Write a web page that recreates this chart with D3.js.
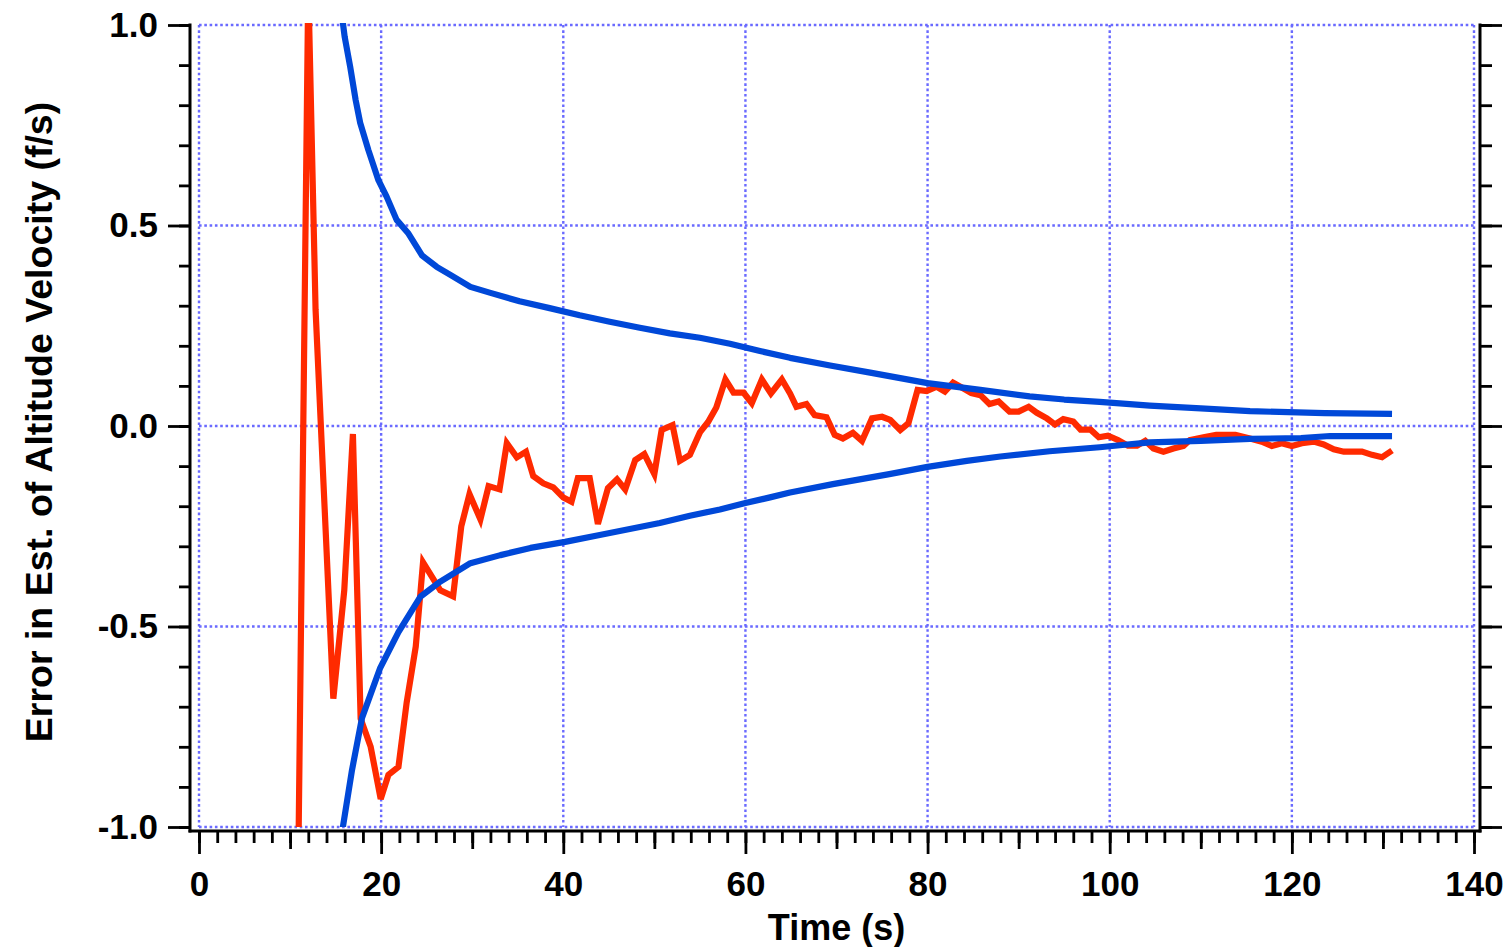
<!DOCTYPE html>
<html>
<head>
<meta charset="utf-8">
<script src="https://cdn.jsdelivr.net/npm/d3@7"></script>
<style>
  html, body { margin: 0; padding: 0; background: #ffffff; }
  svg { display: block; }
  text { font-family: "Liberation Sans", Arial, Helvetica, sans-serif; font-weight: bold; fill: #000; }
</style>
</head>
<body>
<svg id="chart" width="1510" height="947"></svg>
<script>
// ---------------- data ----------------
const xTicksMajor = [0, 20, 40, 60, 80, 100, 120, 140];
const yTicksMajor = [-1.0, -0.5, 0.0, 0.5, 1.0];
const xLabel = "Time (s)";
const yLabel = "Error in Est. of Altitude Velocity (f/s)";

// estimation error  [time (s), error (f/s)]
const errorSeries = [
  [10.9,-1.1],[12.0,1.1],[12.8,0.29],[14.75,-0.68],[15.95,-0.41],[16.9,-0.02],
  [17.75,-0.73],[18.85,-0.80],[19.95,-0.93],[20.8,-0.87],[21.9,-0.85],[22.8,-0.69],
  [23.8,-0.55],[24.6,-0.34],[26.5,-0.41],[27.9,-0.425],[28.8,-0.25],[29.7,-0.17],
  [30.9,-0.233],[31.8,-0.15],[33.0,-0.158],[33.8,-0.043],[34.9,-0.078],[35.9,-0.064],
  [36.7,-0.125],[37.8,-0.143],[38.9,-0.153],[40.0,-0.178],[40.9,-0.189],[41.6,-0.13],
  [42.9,-0.13],[43.8,-0.244],[44.9,-0.155],[45.9,-0.133],[46.8,-0.158],[47.9,-0.085],
  [48.9,-0.07],[50.0,-0.12],[50.8,-0.01],[52.0,0.002],[52.8,-0.087],[53.9,-0.072],
  [55.0,-0.016],[55.9,0.01],[56.8,0.046],[57.8,0.116],[58.7,0.083],[59.8,0.083],
  [60.7,0.057],[61.8,0.116],[62.8,0.081],[64.0,0.116],[64.9,0.081],[65.6,0.048],
  [66.7,0.055],[67.6,0.027],[68.9,0.022],[69.8,-0.022],[70.7,-0.031],[71.8,-0.017],
  [72.8,-0.037],[73.9,0.019],[75.0,0.023],[75.9,0.015],[77.0,-0.010],[77.9,0.007],
  [78.9,0.09],[79.9,0.087],[81.0,0.098],[81.9,0.086],[82.8,0.108],[83.9,0.094],
  [84.8,0.082],[85.8,0.077],[86.8,0.055],[87.8,0.061],[89.0,0.036],[90.0,0.036],
  [91.1,0.048],[92.0,0.033],[93.1,0.019],[94.0,0.004],[94.9,0.017],[96.0,0.011],
  [96.8,-0.009],[97.9,-0.009],[98.8,-0.028],[99.8,-0.024],[100.9,-0.035],[102.0,-0.049],
  [103.0,-0.049],[103.9,-0.037],[104.8,-0.056],[105.9,-0.064],[107.0,-0.056],[108.1,-0.05],
  [108.8,-0.035],[110.3,-0.028],[111.7,-0.022],[113.8,-0.022],[115.4,-0.031],[116.7,-0.039],
  [117.8,-0.05],[118.9,-0.043],[120.0,-0.05],[121.1,-0.043],[122.4,-0.039],[123.5,-0.046],
  [124.6,-0.058],[125.7,-0.064],[127.7,-0.064],[128.8,-0.072],[129.9,-0.078],[131.0,-0.061]
];

// upper 1-sigma bound [time (s), f/s]
const upperBound = [
  [15.6,1.04],[16.0,0.97],[16.6,0.896],[17.2,0.813],[17.7,0.756],[18.6,0.688],
  [19.7,0.613],[20.6,0.572],[21.7,0.514],[23.0,0.48],[24.5,0.425],[26.1,0.397],
  [27.6,0.377],[29.8,0.347],[32.0,0.332],[35.2,0.311],[38.5,0.294],[41.8,0.276],
  [45.1,0.26],[48.4,0.245],[51.7,0.231],[55.0,0.22],[58.3,0.205],[61.6,0.187],
  [64.9,0.17],[69.3,0.151],[73.7,0.133],[80.0,0.107],[85.8,0.09],[91.2,0.074],
  [95.0,0.066],[98.9,0.06],[104.4,0.051],[110.0,0.044],[115.4,0.037],[123.6,0.032],
  [131.0,0.03]
];

// lower 1-sigma bound [time (s), f/s]
const lowerBound = [
  [15.6,-1.05],[15.8,-1.0],[16.8,-0.858],[17.9,-0.728],[19.9,-0.603],[21.9,-0.514],
  [24.3,-0.426],[26.5,-0.388],[29.8,-0.342],[33.1,-0.322],[36.4,-0.304],[40.2,-0.289],
  [44.0,-0.272],[47.3,-0.257],[50.6,-0.242],[53.9,-0.224],[57.2,-0.208],[60.0,-0.192],
  [62.7,-0.178],[64.9,-0.166],[69.6,-0.145],[75.8,-0.12],[80.0,-0.102],[84.3,-0.087],
  [88.0,-0.076],[93.4,-0.063],[98.9,-0.053],[101.1,-0.048],[104.4,-0.041],[110.0,-0.037],
  [115.4,-0.032],[121.0,-0.03],[124.2,-0.025],[131.0,-0.025]
];

// ---------------- layout ----------------
const svg = d3.select("#chart");
const plot = { left: 199, right: 1474, top: 25, bottom: 827 };
const axisOff = { left: 190, right: 1480, bottom: 831 };

const x = d3.scaleLinear().domain([0, 140]).range([plot.left, plot.right]);
const y = d3.scaleLinear().domain([-1, 1]).range([plot.bottom, plot.top]);

const gridColor = "#6a6aff";
const redColor = "#ff2a00";
const blueColor = "#0048d8";

// grid
const grid = svg.append("g");
grid.selectAll("line.v").data(xTicksMajor).enter().append("line")
  .attr("x1", d => x(d)).attr("x2", d => x(d))
  .attr("y1", plot.top).attr("y2", plot.bottom)
  .attr("stroke", gridColor).attr("stroke-width", 2.4).attr("stroke-dasharray", "2.6,2.7");
grid.selectAll("line.h").data(yTicksMajor).enter().append("line")
  .attr("x1", plot.left).attr("x2", plot.right)
  .attr("y1", d => y(d)).attr("y2", d => y(d))
  .attr("stroke", gridColor).attr("stroke-width", 2.4).attr("stroke-dasharray", "2.6,2.7");

// axes
const fmtY = d => d.toFixed(1);
const yMinor = d3.range(-10, 11).map(i => i / 10);
const xMinor = d3.range(0, 141, 2);
const xMid = d3.range(10, 140, 20);

function styleAxis(g) {
  g.select(".domain").remove();
  g.selectAll(".tick line").attr("stroke", "#000").attr("stroke-width", 2.8);
  g.selectAll(".tick text").style("font-size", "35px").style("font-weight", "bold")
    .style("font-family", '"Liberation Sans", Arial, Helvetica, sans-serif').attr("fill", "#000");
}

// left
svg.append("g").attr("transform", `translate(${axisOff.left},0)`)
  .call(d3.axisLeft(y).tickValues(yMinor).tickSize(11).tickFormat(""))
  .call(styleAxis);
svg.append("g").attr("transform", `translate(${axisOff.left},0)`)
  .call(d3.axisLeft(y).tickValues(yTicksMajor).tickSize(22).tickPadding(10).tickFormat(fmtY))
  .call(styleAxis);
// right
svg.append("g").attr("transform", `translate(${axisOff.right},0)`)
  .call(d3.axisRight(y).tickValues(yMinor).tickSize(12).tickFormat(""))
  .call(styleAxis);
svg.append("g").attr("transform", `translate(${axisOff.right},0)`)
  .call(d3.axisRight(y).tickValues(yTicksMajor).tickSize(22).tickFormat(""))
  .call(styleAxis);
// bottom
svg.append("g").attr("transform", `translate(0,${axisOff.bottom})`)
  .call(d3.axisBottom(x).tickValues(xMinor).tickSize(12).tickFormat(""))
  .call(styleAxis);
svg.append("g").attr("transform", `translate(0,${axisOff.bottom})`)
  .call(d3.axisBottom(x).tickValues(xMid).tickSize(18).tickFormat(""))
  .call(styleAxis);
svg.append("g").attr("transform", `translate(0,${axisOff.bottom})`)
  .call(d3.axisBottom(x).tickValues(xTicksMajor).tickSize(23).tickPadding(17).tickFormat(d3.format("d")))
  .call(styleAxis);

// axis lines
const axLines = svg.append("g").attr("stroke", "#000").attr("stroke-width", 3).attr("stroke-linecap", "square");
axLines.append("line").attr("x1", axisOff.left).attr("x2", axisOff.left).attr("y1", y(1)).attr("y2", axisOff.bottom);
axLines.append("line").attr("x1", axisOff.right).attr("x2", axisOff.right).attr("y1", y(1)).attr("y2", axisOff.bottom);
axLines.append("line").attr("x1", axisOff.left).attr("x2", axisOff.right).attr("y1", axisOff.bottom).attr("y2", axisOff.bottom);

// clip
svg.append("defs").append("clipPath").attr("id", "plotclip").append("rect")
  .attr("x", plot.left).attr("y", plot.top - 2)
  .attr("width", plot.right - plot.left).attr("height", plot.bottom - plot.top + 2);

const line = d3.line().x(d => x(d[0])).y(d => y(d[1]));
const series = svg.append("g").attr("clip-path", "url(#plotclip)");

series.append("path").datum(errorSeries).attr("d", line)
  .attr("fill", "none").attr("stroke", redColor).attr("stroke-width", 6.2).attr("stroke-linejoin", "miter");
series.append("path").datum(upperBound).attr("d", line)
  .attr("fill", "none").attr("stroke", blueColor).attr("stroke-width", 6.2).attr("stroke-linejoin", "round");
series.append("path").datum(lowerBound).attr("d", line)
  .attr("fill", "none").attr("stroke", blueColor).attr("stroke-width", 6.2).attr("stroke-linejoin", "round");

// axis titles
svg.append("text").attr("x", (plot.left + plot.right) / 2).attr("y", 940)
  .attr("text-anchor", "middle").style("font-size", "36px").text(xLabel);
svg.append("text").attr("transform", `translate(52,${(plot.top + plot.bottom) / 2 - 4}) rotate(-90)`)
  .attr("text-anchor", "middle").style("font-size", "37.5px").text(yLabel);
</script>
</body>
</html>
